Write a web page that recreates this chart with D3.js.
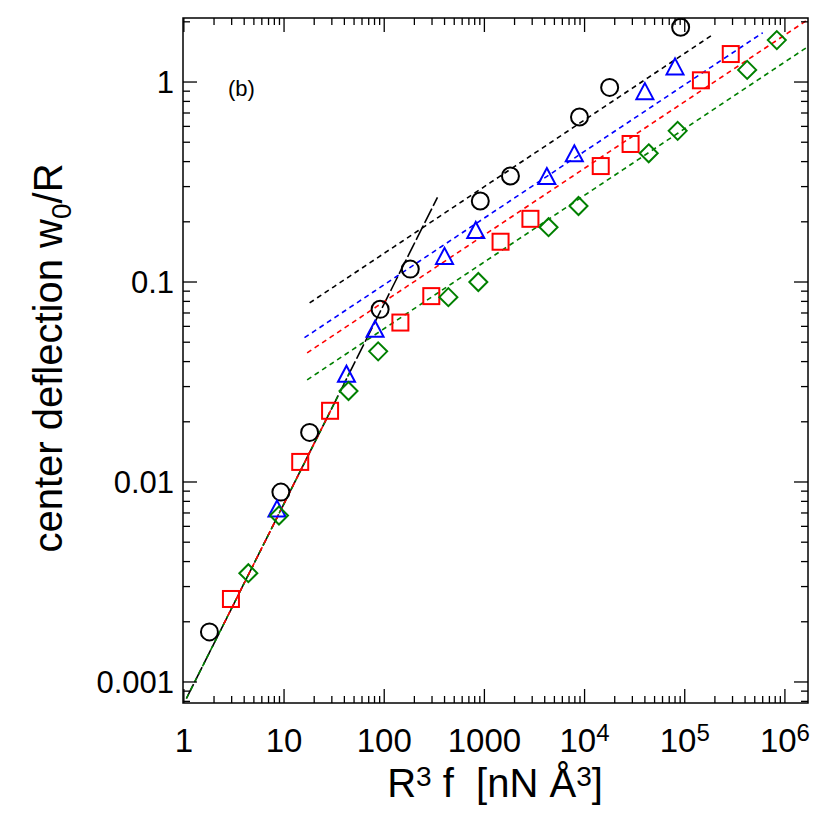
<!DOCTYPE html><html><head><meta charset="utf-8"><script src="https://cdn.jsdelivr.net/npm/d3@7"></script>
<style>body{margin:0;background:#fff}text{font-family:"Liberation Sans",Arial,sans-serif}</style></head><body><svg id="c" width="830" height="830"></svg>
<script>
const circX=[1.8,9.3,18,91,182,910,1820,8900,17800,91000];
const circY=[0.00178,0.0089,0.0177,0.073,0.116,0.254,0.339,0.668,0.94,1.88];
const triX=[8.5,42,81,400,820,4200,7900,40000,80000];
const triY=[0.0072,0.034,0.057,0.132,0.178,0.331,0.43,0.88,1.17];
const sqX=[2.95,14.5,28.8,145,295,1450,2880,14500,28800,145000,288000];
const sqY=[0.0026,0.0126,0.0227,0.0627,0.085,0.159,0.207,0.38,0.49,1.02,1.38];
const diaX=[4.4,8.9,44,87,437,870,4370,8700,43700,85000,420000,830000];
const diaY=[0.0035,0.0068,0.0285,0.045,0.084,0.1,0.188,0.24,0.44,0.57,1.15,1.62];
// fits: w/R = a * x^p over [x0,x1]
const fitA=[0.00078,0.00078,0.00078,0.030,0.0209,0.0172,0.0126];
const fitP=[1,1,1,1/3,1/3,1/3,1/3];
const fitX0=[1.06,1.06,2.5,18,16,17,17];
const fitX1=[340,45,30,190000,600000,1.7e6,1.7e6];
const fitC=["black","green","red","black","blue","red","green"];
const fitDash=["16,3","5,4","5,4","5,4","5,4","5,4","5,4"];
const xTicks=["1","10","100","1000","10^4","10^5","10^6"];
const yTicks=["0.001","0.01","0.1","1"];

const svg=d3.select("#c");
const L=183,R=808,T=18,B=703;
const x=d3.scaleLog().domain([0.98,1.7e6]).range([L,R]);
const y=d3.scaleLog().domain([0.000785,2.09]).range([B,T]);
const g=svg.append("g");
svg.append("clipPath").attr("id","cp").append("rect").attr("x",L).attr("y",T).attr("width",R-L).attr("height",B-T);
const pl=svg.append("g").attr("clip-path","url(#cp)");
fitA.forEach((a,i)=>{
  const pts=d3.range(0,101).map(k=>{const lx=Math.log10(fitX0[i])+k/100*(Math.log10(fitX1[i])-Math.log10(fitX0[i]));const xv=10**lx;return [x(xv),y(a*xv**fitP[i])];});
  pl.append("path").attr("d",d3.line()(pts)).attr("fill","none").attr("stroke",fitC[i]).attr("stroke-width",1.6).attr("stroke-dasharray",fitDash[i]);
});
const sw=2;
circX.forEach((v,i)=>pl.append("circle").attr("cx",x(v)).attr("cy",y(circY[i])).attr("r",8.5).attr("fill","none").attr("stroke","black").attr("stroke-width",sw));
triX.forEach((v,i)=>pl.append("path").attr("transform",`translate(${x(v)},${y(triY[i])})`).attr("d","M0,-10L8.5,6L-8.5,6Z").attr("fill","none").attr("stroke","blue").attr("stroke-width",sw));
sqX.forEach((v,i)=>pl.append("rect").attr("x",x(v)-8).attr("y",y(sqY[i])-8).attr("width",16).attr("height",16).attr("fill","none").attr("stroke","red").attr("stroke-width",sw));
diaX.forEach((v,i)=>pl.append("path").attr("transform",`translate(${x(v)},${y(diaY[i])})`).attr("d","M0,-9L9,0L0,9L-9,0Z").attr("fill","none").attr("stroke","green").attr("stroke-width",sw));
g.append("rect").attr("x",L).attr("y",T).attr("width",R-L).attr("height",B-T).attr("fill","none").attr("stroke","black").attr("stroke-width",1.5);
const tk=svg.append("g").attr("stroke","black").attr("stroke-width",1.3);
for(let e=0;e<=6;e++)for(let m=1;m<=9;m++){const v=m*10**e;if(v>1.7e6||v<0.98)continue;const px=x(v),len=m==1?14:7;
 tk.append("line").attr("x1",px).attr("x2",px).attr("y1",B).attr("y2",B-len);tk.append("line").attr("x1",px).attr("x2",px).attr("y1",T).attr("y2",T+len);}
for(let e=-4;e<=0;e++)for(let m=1;m<=9;m++){const v=m*10**e;if(v>2.09||v<0.000785)continue;const py=y(v),len=m==1?14:7;
 tk.append("line").attr("y1",py).attr("y2",py).attr("x1",L).attr("x2",L+len);tk.append("line").attr("y1",py).attr("y2",py).attr("x1",R).attr("x2",R-len);}
xTicks.forEach((t,i)=>{const tx=svg.append("text").attr("x",x(10**i)).attr("y",752).attr("text-anchor","middle").attr("font-size",33);
 if(t.includes("^")){const [b,p]=t.split("^");tx.append("tspan").text(b);tx.append("tspan").attr("dy",-11).attr("font-size",24).text(p);}else tx.text(t);});
yTicks.forEach((t,i)=>svg.append("text").attr("x",L-9).attr("y",y(10**(i-3))+11).attr("text-anchor","end").attr("font-size",31).text(t));
const xl=svg.append("text").attr("x",495).attr("y",797).attr("text-anchor","middle").attr("font-size",40).attr("xml:space","preserve");
xl.append("tspan").text("R");xl.append("tspan").attr("dy",-11).attr("font-size",28).text("3");xl.append("tspan").attr("dy",11).text("\u00a0f \u00a0[nN Å");xl.append("tspan").attr("dy",-11).attr("font-size",28).text("3");xl.append("tspan").attr("dy",11).text("]");
const yl=svg.append("text").attr("transform","translate(62,358) rotate(-90)").attr("text-anchor","middle").attr("font-size",40);
yl.append("tspan").text("center deflection w");yl.append("tspan").attr("dy",9).attr("font-size",28).text("0");yl.append("tspan").attr("dy",-9).text("/R");
svg.append("text").attr("x",228).attr("y",96).attr("font-size",22).text("(b)");
</script></body></html>
